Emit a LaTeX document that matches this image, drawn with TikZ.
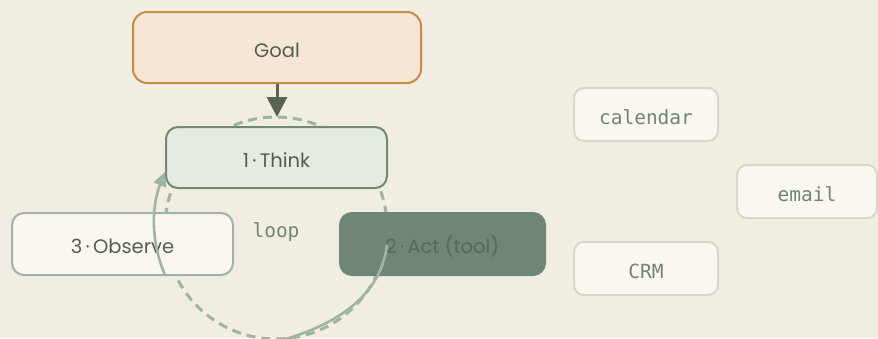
\documentclass[tikz,border=0pt]{standalone}
\usepackage{fontspec}
\setmainfont{Poppins}
\setmonofont{DejaVu Sans Mono}
\usetikzlibrary{arrows.meta}

\definecolor{bg}{HTML}{F2EDE3}
\definecolor{goalfill}{HTML}{F6E7D5}
\definecolor{goalline}{HTML}{C88A45}
\definecolor{thinkfill}{HTML}{E4EBE1}
\definecolor{thinkline}{HTML}{718A74}
\definecolor{ink}{HTML}{555D50}
\definecolor{paper}{HTML}{FAF7F0}
\definecolor{sage}{HTML}{9FB4A2}
\definecolor{actfill}{HTML}{6E8673}
\definecolor{actink}{HTML}{59685A}
\definecolor{goalarrow}{HTML}{5A6252}
\definecolor{toolline}{HTML}{DCD6C6}
\definecolor{toolink}{HTML}{6E8673}

\tikzset{
  card/.style={rectangle, rounded corners=12pt, line width=2pt, inner sep=0pt,
    font=\fontsize{19.5}{22}\selectfont, text=ink, text height=19pt, text depth=0pt},
  toolbox/.style={rectangle, rounded corners=10pt, line width=2pt, inner sep=0pt,
    draw=toolline, fill=paper, minimum width=144pt, minimum height=53pt,
    font=\ttfamily\fontsize{19.5}{22}\selectfont, text=toolink,
    text height=20pt, text depth=0pt},
  ring/.style={draw=sage, line width=3pt, dash pattern=on 9pt off 6pt},
  sweep/.style={draw=sage, line width=2.6pt},
  cycle/.style={sweep, -{Triangle[length=14pt,width=13pt]}},
}

\begin{document}
\begin{tikzpicture}[x=1pt, y=-1pt]
  \fill[bg] (0,0) rectangle (878,338);
  \useasboundingbox (0,0) rectangle (878,338);
  \clip (0,0) rectangle (878,338);

  % the loop ring behind the steps
  \draw[ring] (276,228) circle[radius=111];

  % goal and the three steps
  \node[card, draw=goalline, fill=goalfill, minimum width=288pt, minimum height=71pt, rounded corners=14pt]
    (goal) at (277,47.5) {Goal};
  \node[card, draw=thinkline, fill=thinkfill, minimum width=221pt, minimum height=61pt]
    (think) at (276.5,157.5) {1\,·\,Think};
  \node[card, draw=sage, fill=paper, minimum width=221pt, minimum height=62pt]
    (observe) at (122.5,244) {3\,·\,Observe};
  \node[card, draw=actfill, fill=actfill, text=actink, minimum width=205pt, minimum height=62pt]
    (act) at (442.5,244) {2\,·\,Act (tool)};

  \node[font=\ttfamily\fontsize{19.5}{22}\selectfont, text=toolink, inner sep=0pt,
    text height=19pt, text depth=0pt] (loop) at (276,228) {loop};

  % tools
  \node[toolbox] (calendar) at (646,114.5) {calendar};
  \node[toolbox, minimum width=140pt] (email) at (807,191.5) {email};
  \node[toolbox] (crm) at (646,268.5) {CRM};

  % goal feeds the loop
  \coordinate (entry) at (277,117);
  \draw[goalarrow, line width=3pt, -{Triangle[length=20pt,width=20pt]}] (goal.south) -- (entry);

  % act sweeps down out of view
  \coordinate (actfoot) at (387,245);
  \coordinate (below) at (230,352);
  \draw[sweep] (actfoot) .. controls (380,300) and (330,335) .. (below);

  % observe rises back to think
  \coordinate (obsfoot) at (165,275);
  \coordinate (thinkcorner) at (165,172);
  \draw[cycle] (obsfoot) .. controls (150,240) and (152,205) .. (thinkcorner);
\end{tikzpicture}
\end{document}
